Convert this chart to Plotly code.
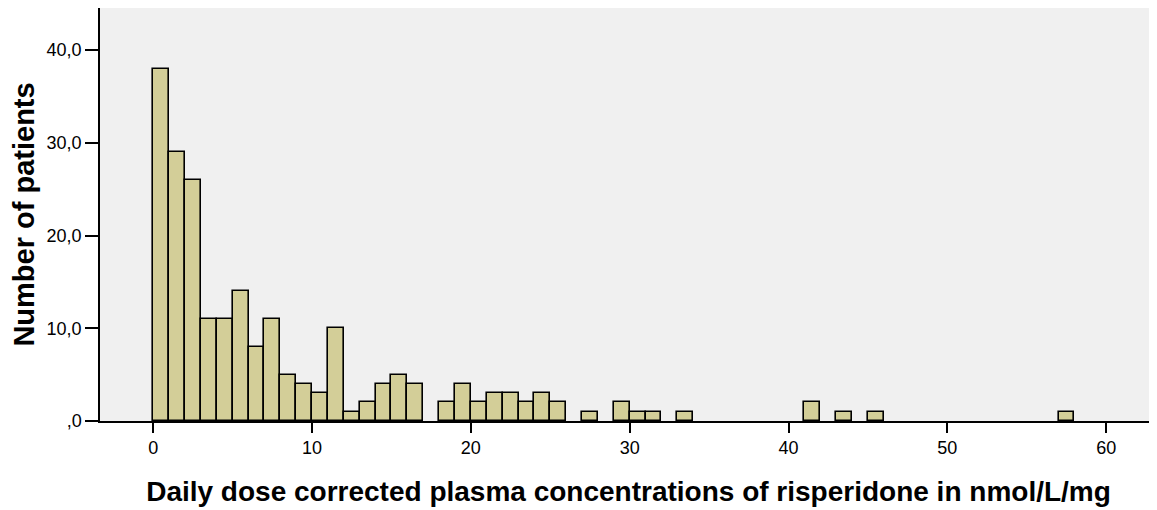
import plotly.graph_objects as go

bin_start = list(range(0, 58))
counts = [38, 29, 26, 11, 11, 14, 8, 11, 5, 4,
          3, 10, 1, 2, 4, 5, 4, 0, 2, 4,
          2, 3, 3, 2, 3, 2, 0, 1, 0, 2,
          1, 1, 0, 1, 0, 0, 0, 0, 0, 0,
          0, 2, 0, 1, 0, 1, 0, 0, 0, 0,
          0, 0, 0, 0, 0, 0, 0, 1]
bin_width = 1
x_ticks = [0, 10, 20, 30, 40, 50, 60]
y_ticks = [0, 10, 20, 30, 40]
y_tick_labels = [",0", "10,0", "20,0", "30,0", "40,0"]

xs = [b + bin_width / 2 for b, c in zip(bin_start, counts) if c > 0]
ys = [c for c in counts if c > 0]

fig = go.Figure(go.Bar(
    x=xs, y=ys, width=bin_width,
    marker=dict(color="#D3CE98", line=dict(color="black", width=1.6)),
))

# page body has an 8px margin, so the figure is sized/placed to compensate
fig.update_layout(
    width=1149, height=502,
    margin=dict(l=92, r=0, t=0, b=89),
    paper_bgcolor="white", plot_bgcolor="#F0F0F0",
    showlegend=False, bargap=0,
    font=dict(family="Liberation Sans, Arial", color="black"),
)
fig.update_xaxes(
    range=[-3.35, 63.2], tickvals=x_ticks, ticks="outside", ticklen=10,
    tickwidth=1.5, tickcolor="black", showgrid=False, zeroline=False,
    showline=True, linecolor="black", linewidth=1.5, mirror=True,
    automargin=False,
    tickfont=dict(size=18),
    title=dict(text="<b>Daily dose corrected plasma concentrations of risperidone in nmol/L/mg</b>",
               font=dict(size=28), standoff=24),
)
fig.update_yaxes(
    range=[0, 44.55], tickvals=y_ticks, ticktext=y_tick_labels, ticks="outside",
    ticklen=13, tickwidth=1.5, tickcolor="black", showgrid=False, zeroline=False,
    showline=True, linecolor="black", linewidth=1.5, mirror=False,
    automargin=False,
    tickfont=dict(size=18),
    title=dict(text="<b>Number of patients</b>", font=dict(size=29), standoff=12),
)

fig.write_html("out.html")
